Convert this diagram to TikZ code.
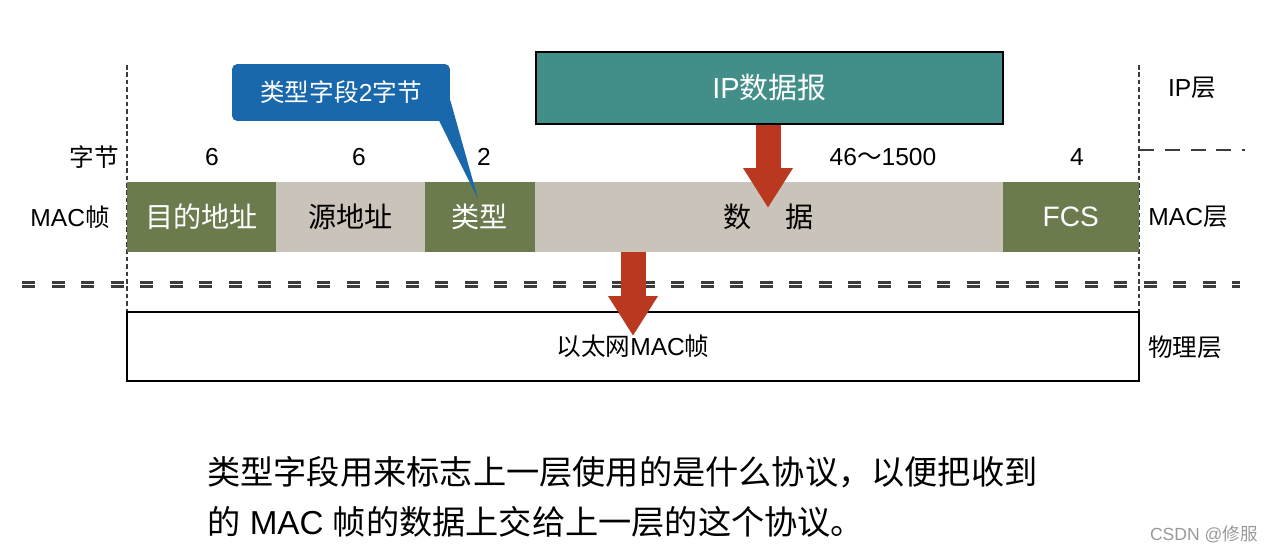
\documentclass[tikz,border=0pt]{standalone}
\usepackage{fontspec}
\setmainfont{Liberation Sans}
\newfontfamily\cjk{Noto Sans CJK SC}
\usetikzlibrary{arrows.meta,positioning,calc}
\definecolor{cellgreen}{RGB}{107,123,78}
\definecolor{cellgray}{RGB}{201,195,185}
\definecolor{ipteal}{RGB}{66,142,137}
\definecolor{tipblue}{RGB}{26,104,172}
\definecolor{arrowred}{RGB}{185,56,31}
\definecolor{lineinkgray}{RGB}{60,60,60}

\begin{document}
\begin{tikzpicture}[x=0.02cm,y=-0.02cm,
  lbl/.style={font=\fontsize{14}{16}\selectfont,inner sep=0pt},
  cell/.style={minimum height=1.4cm,inner sep=0pt,outer sep=0pt,
    font=\fontsize{16}{18}\selectfont},
  greencell/.style={cell,fill=cellgreen,text=white},
  graycell/.style={cell,fill=cellgray,text=black},
  redarrow/.style={arrowred,line width=0.5cm,
    -{Triangle[length=0.8cm,width=0.94cm]}},
  layerline/.style={lineinkgray,line width=0.9pt,dash pattern=on 2.6pt off 1.6pt},
  dbldash/.style={lineinkgray,line width=1.35pt,dash pattern=on 7.4pt off 9.4pt}]
\useasboundingbox (0,0) rectangle (1274,555);

% layer borders
\draw[layerline] (127,65) -- (127,312);
\draw[layerline] (1139,65) -- (1139,312);
\draw[lineinkgray,line width=1.1pt,dash pattern=on 8.5pt off 6.2pt] (1139,150) -- (1245,150);
\draw[dbldash] (22,282.5) -- (1240,282.5);
\draw[dbldash] (22,286.5) -- (1240,286.5);

% MAC frame
\node[greencell,minimum width=2.98cm,anchor=west] (dst) at (127,217) {{\cjk 目的地址}};
\node[graycell,minimum width=2.98cm,right=0pt of dst] (src) {{\cjk 源地址}};
\node[greencell,minimum width=2.2cm,right=0pt of src] (type) {{\cjk 类型}};
\node[graycell,minimum width=9.36cm,right=0pt of type] (data) {{\cjk 数\hspace{1.2em}据}};
\node[greencell,minimum width=2.72cm,right=0pt of data] (fcs) {FCS};

% byte counts
\node[lbl] (bytes) at (94,157) {{\cjk 字节}};
\node[lbl] (ndst) at (212,157) {6};
\node[lbl] (nsrc) at (359,157) {6};
\node[lbl] (ntype) at (484,157) {2};
\node[lbl] (ndata) at (883,157) {46{\cjk ～}1500};
\node[lbl] (nfcs) at (1077,157) {4};

% layer names
\node[lbl] (macfr) at (70,217) {MAC{\cjk 帧}};
\node[lbl] (iplay) at (1192,88) {IP{\cjk 层}};
\node[lbl] (maclay) at (1188,217) {MAC{\cjk 层}};
\node[lbl] (phylay) at (1185,347) {{\cjk 物理层}};

% IP datagram and physical frame
\node[draw=black,line width=0.8pt,fill=ipteal,text=white,minimum width=9.34cm,
  minimum height=1.44cm,font=\fontsize{16.5}{18}\selectfont] (ip) at (769.5,88) {IP{\cjk 数据报}};
\node[draw=black,line width=1.1pt,fill=white,minimum width=20.24cm,minimum height=1.38cm,
  font=\fontsize{14}{16}\selectfont] (phy) at (633,346.5) {{\cjk 以太网}MAC{\cjk 帧}};

% callout
\node[fill=tipblue,text=white,rounded corners=3pt,inner sep=0pt,
  minimum width=4.36cm,minimum height=1.14cm,font=\fontsize{14}{16}\selectfont]
  (tip) at (341,92.5) {{\cjk 类型字段}2{\cjk 字节}};
\coordinate (tipend) at (478,199);
\fill[tipblue] ($(tip.south east)+(-11,0)$) -- (tipend) -- ($(tip.south east)+(0,-21)$) -- cycle;

% encapsulation arrows
\coordinate (t1) at (768,208);
\coordinate (t2) at (633,336);
\draw[redarrow] (ip.south -| t1) -- (t1);
\draw[redarrow] (data.south -| t2) -- (t2);

% note
\node[anchor=base west,inner sep=0pt,font=\fontsize{18.9}{20}\selectfont] (note1) at (207,484)
  {{\cjk 类型字段用来标志上一层使用的是什么协议，以便把收到}};
\node[anchor=base west,inner sep=0pt,font=\fontsize{18.9}{20}\selectfont] (note2) at (207,534)
  {{\cjk 的} MAC {\cjk 帧的数据上交给上一层的这个协议。}};
\node[anchor=base east,inner sep=0pt,text=black!40,font=\fontsize{10}{12}\selectfont] (mark) at (1258,540)
  {CSDN @{\cjk 修服}};
\end{tikzpicture}
\end{document}
